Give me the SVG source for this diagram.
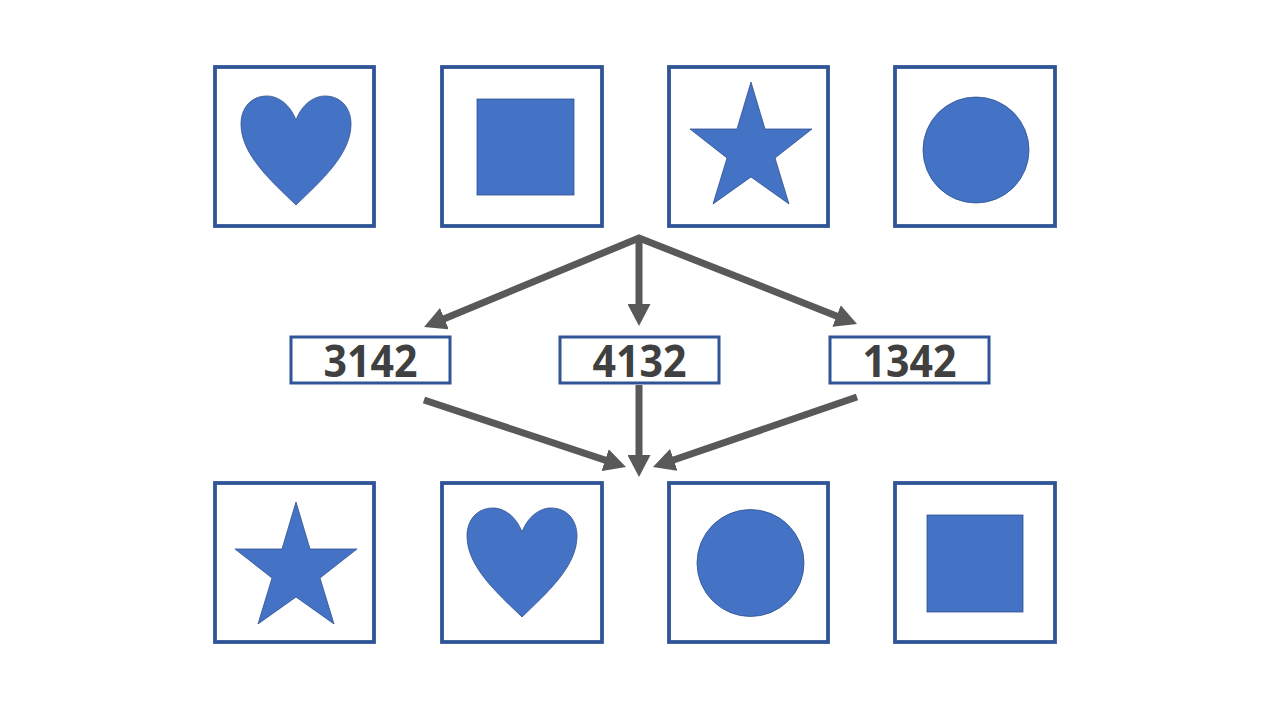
<svg xmlns="http://www.w3.org/2000/svg" width="1280" height="720" viewBox="0 0 1280 720">
  <style>
    .frame { fill: #FFFFFF; stroke: #2F5597; stroke-width: 3.8; }
    .lbox { fill: #FFFFFF; stroke: #2F5597; stroke-width: 3; }
    .shape { fill: #4472C4; stroke: #2F528F; stroke-width: 0.8; }
    .lbl { font-family: "Open Sans", "Noto Sans", "Liberation Sans", sans-serif; font-weight: bold; font-size: 44px; fill: #404040; text-anchor: middle; }
    .arr { fill: none; stroke: #595959; stroke-width: 7; stroke-linejoin: miter; }
  </style>
  <defs>
    <marker id="ah" markerUnits="userSpaceOnUse" markerWidth="22" markerHeight="23" refX="8" refY="11.5" orient="auto-start-reverse" viewBox="0 0 22 23">
      <path d="M0,0 L22,11.5 L0,23 Z" fill="#595959"/>
    </marker>
    <path id="heart" d="M0,24 C-6,8 -18,0 -29,0 C-45,0 -55,12 -55,28 C-55,58 -26,84 0,109 C26,84 55,58 55,28 C55,12 45,0 29,0 C18,0 6,8 0,24 Z"/>
    <polygon id="star" points="0,0 14,47 61,47 24,76 38,122 0,95 -38,122 -24,76 -61,47 -14,47"/>
  </defs>
  <rect width="1280" height="720" fill="#FFFFFF"/>

  <g id="top-1">
    <rect class="frame" x="215" y="67" width="159" height="159"/>
    <use href="#heart" class="shape" transform="translate(296,96)"/>
  </g>
  <g id="top-2">
    <rect class="frame" x="442" y="67" width="160" height="159"/>
    <rect class="shape" x="477" y="99" width="97" height="96"/>
  </g>
  <g id="top-3">
    <rect class="frame" x="669" y="67" width="159" height="159"/>
    <use href="#star" class="shape" transform="translate(751,82)"/>
  </g>
  <g id="top-4">
    <rect class="frame" x="895" y="67" width="160" height="159"/>
    <circle class="shape" cx="976" cy="150" r="53"/>
  </g>

  <g id="label-3142">
    <rect class="lbox" x="291" y="337" width="159" height="46"/>
    <text class="lbl" x="370.5" y="377" textLength="94" lengthAdjust="spacingAndGlyphs">3142</text>
  </g>
  <g id="label-4132">
    <rect class="lbox" x="560" y="337" width="159" height="46"/>
    <text class="lbl" x="639.5" y="377" textLength="94" lengthAdjust="spacingAndGlyphs">4132</text>
  </g>
  <g id="label-1342">
    <rect class="lbox" x="830" y="337" width="159" height="46"/>
    <text class="lbl" x="909.5" y="377" textLength="94" lengthAdjust="spacingAndGlyphs">1342</text>
  </g>

  <g id="bottom-1">
    <rect class="frame" x="215" y="483" width="159" height="159"/>
    <use href="#star" class="shape" transform="translate(296,502)"/>
  </g>
  <g id="bottom-2">
    <rect class="frame" x="442" y="483" width="160" height="159"/>
    <use href="#heart" class="shape" transform="translate(522,508)"/>
  </g>
  <g id="bottom-3">
    <rect class="frame" x="669" y="483" width="159" height="159"/>
    <circle class="shape" cx="750.5" cy="563" r="53.5"/>
  </g>
  <g id="bottom-4">
    <rect class="frame" x="895" y="483" width="160" height="159"/>
    <rect class="shape" x="927" y="515" width="96" height="97"/>
  </g>

  <g id="connectors">
    <path class="arr" d="M437,321.7 L639,238 L844,318.9" marker-start="url(#ah)" marker-end="url(#ah)"/>
    <path class="arr" d="M639,238 L639,312" marker-end="url(#ah)"/>
    <path class="arr" d="M424,400 L612.7,462.6" marker-end="url(#ah)"/>
    <path class="arr" d="M639,385 L639,463" marker-end="url(#ah)"/>
    <path class="arr" d="M857,397 L666.2,462.5" marker-end="url(#ah)"/>
  </g>
</svg>
